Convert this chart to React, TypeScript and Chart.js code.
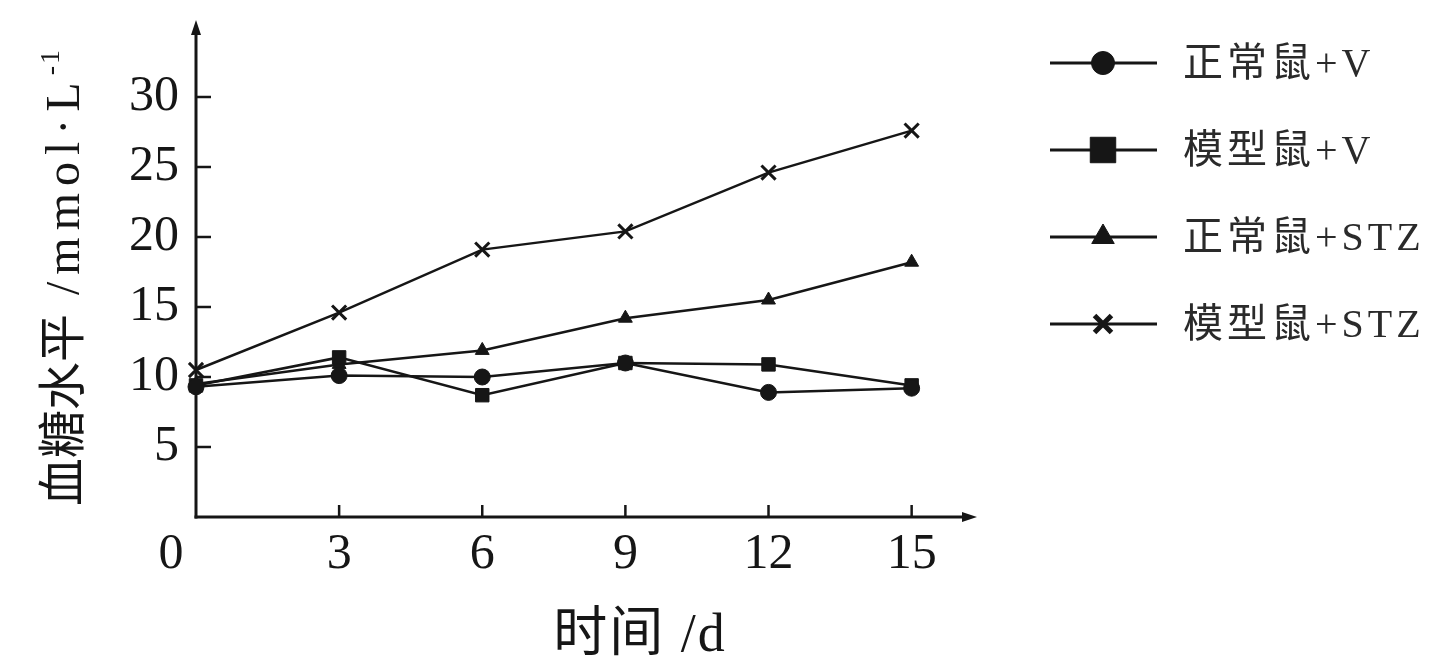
import React, { useEffect, useRef } from 'react';
import { Chart, registerables } from 'chart.js';
import { drawPoint } from 'chart.js/helpers';

Chart.register(...registerables);

// ---- data ----
const days = [0, 3, 6, 9, 12, 15];
const xTickValues = [0, 3, 6, 9, 12, 15];
const yTickValues = [5, 10, 15, 20, 25, 30];
const seriesNames = ['正常鼠+V', '模型鼠+V', '正常鼠+STZ', '模型鼠+STZ'];
const normalV = [9.3, 10.1, 10.0, 11.0, 8.9, 9.2];
const modelV = [9.4, 11.4, 8.7, 11.0, 10.9, 9.4];
const normalSTZ = [9.5, 10.9, 11.9, 14.2, 15.5, 18.2];
const modelSTZ = [10.5, 14.6, 19.1, 20.4, 24.6, 27.6];
const xTitleCn = '时间';
const xTitleUnit = ' /d';
const yTitleCn = '血糖水平';
const yTitleUnit = ' /mmol·L';
const yTitleSup = '-1';

const INK = '#161616';
const SERIF = '"Liberation Serif", "Times New Roman", serif';
const CJK = '"Noto Sans CJK SC", sans-serif';

const seriesValues = [normalV, modelV, normalSTZ, modelSTZ];
const pointStyles = ['circle', 'rect', 'triangle', 'crossRot'];
const pointRadii = [8, 9.5, 8, 10];
const pointBorders = [1, 1, 1, 3];
const legendRadii = [11.5, 18, 13, 12];
const legendBorders = [1, 1, 1, 5];

const decorPlugin = {
  id: 'decor',
  beforeDatasetsDraw(chart: any) {
    const { ctx, chartArea: a, scales } = chart;
    const x = scales.x;
    const y = scales.y;
    const x0 = x.getPixelForValue(0);
    const y0 = y.getPixelForValue(0);
    ctx.save();
    ctx.strokeStyle = INK;
    ctx.fillStyle = INK;
    ctx.lineWidth = 3;
    ctx.lineCap = 'butt';
    // y axis
    ctx.beginPath();
    ctx.moveTo(x0, y0 + 1.5);
    ctx.lineTo(x0, a.top + 10);
    ctx.stroke();
    ctx.beginPath();
    ctx.moveTo(x0, a.top);
    ctx.lineTo(x0 - 5, a.top + 15);
    ctx.lineTo(x0 + 5, a.top + 15);
    ctx.closePath();
    ctx.fill();
    // x axis
    ctx.beginPath();
    ctx.moveTo(x0 - 1.5, y0);
    ctx.lineTo(a.right - 10, y0);
    ctx.stroke();
    ctx.beginPath();
    ctx.moveTo(a.right, y0);
    ctx.lineTo(a.right - 15, y0 - 5);
    ctx.lineTo(a.right - 15, y0 + 5);
    ctx.closePath();
    ctx.fill();
    // inward ticks
    ctx.lineWidth = 2.5;
    yTickValues.forEach((v) => {
      const py = y.getPixelForValue(v);
      ctx.beginPath();
      ctx.moveTo(x0, py);
      ctx.lineTo(x0 + 15, py);
      ctx.stroke();
    });
    xTickValues.forEach((v) => {
      if (v === 0) return;
      const px = x.getPixelForValue(v);
      ctx.beginPath();
      ctx.moveTo(px, y0);
      ctx.lineTo(px, y0 - 12);
      ctx.stroke();
    });
    ctx.restore();
  },
  afterDraw(chart: any) {
    const { ctx } = chart;
    ctx.save();
    ctx.fillStyle = INK;
    ctx.strokeStyle = INK;

    // x-axis title
    ctx.textBaseline = 'alphabetic';
    ctx.textAlign = 'left';
    ctx.font = `54px ${CJK}`;
    (ctx as any).letterSpacing = '2px';
    const w1 = ctx.measureText(xTitleCn).width;
    ctx.font = `54px ${SERIF}`;
    const w2 = ctx.measureText(xTitleUnit).width;
    const startX = 640 - (w1 + w2) / 2;
    const baseY = 651;
    ctx.font = `54px ${CJK}`;
    ctx.fillText(xTitleCn, startX, baseY);
    ctx.font = `54px ${SERIF}`;
    ctx.fillText(xTitleUnit, startX + w1, baseY);

    // y-axis title (rotated)
    ctx.save();
    ctx.translate(79, 506);
    ctx.rotate(-Math.PI / 2);
    (ctx as any).letterSpacing = '0px';
    ctx.font = `48px ${CJK}`;
    ctx.fillText(yTitleCn, 0, 0);
    const c1 = ctx.measureText(yTitleCn).width;
    (ctx as any).letterSpacing = '7px';
    ctx.font = `48px ${SERIF}`;
    ctx.fillText(yTitleUnit, c1, 0);
    const c2 = ctx.measureText(yTitleUnit).width;
    (ctx as any).letterSpacing = '2px';
    ctx.font = `28px ${SERIF}`;
    ctx.fillText(yTitleSup, c1 + c2, -20);
    ctx.restore();

    // legend
    (ctx as any).letterSpacing = '4px';
    ctx.font = `40px ${SERIF.split(',')[0]}, ${CJK}`;
    ctx.textBaseline = 'middle';
    seriesNames.forEach((name, i) => {
      const ry = 63 + i * 87;
      ctx.strokeStyle = INK;
      ctx.fillStyle = INK;
      ctx.lineWidth = 3;
      ctx.beginPath();
      ctx.moveTo(1050, ry);
      ctx.lineTo(1157, ry);
      ctx.stroke();
      ctx.lineWidth = legendBorders[i];
      drawPoint(ctx, {
        pointStyle: pointStyles[i] as any,
        radius: legendRadii[i],
        borderWidth: legendBorders[i],
        rotation: 0,
      } as any, 1103, ry);
      ctx.fillStyle = '#2a2a2a';
      ctx.fillText(name, 1183, ry + 2);
    });
    ctx.restore();
  },
};

export default function App() {
  const canvasRef = useRef<HTMLCanvasElement | null>(null);

  useEffect(() => {
    const canvas = canvasRef.current;
    if (!canvas) return;
    const datasets = seriesValues.map((vals, i) => ({
      label: seriesNames[i],
      data: days.map((d, j) => ({ x: d, y: vals[j] })),
      borderColor: INK,
      backgroundColor: INK,
      pointBackgroundColor: INK,
      pointBorderColor: INK,
      borderWidth: 2.5,
      pointStyle: pointStyles[i] as any,
      pointRadius: pointRadii[i],
      pointBorderWidth: pointBorders[i],
      tension: 0,
      clip: false as any,
    }));

    const chart = new Chart(canvas, {
      type: 'line',
      data: { datasets },
      options: {
        animation: false,
        responsive: false,
        devicePixelRatio: 1,
        layout: { padding: { top: 20, right: 458, left: 0, bottom: 0 } },
        plugins: {
          legend: { display: false },
          tooltip: { enabled: false },
        },
        scales: {
          x: {
            type: 'linear',
            min: 0,
            max: 16.37,
            grid: { display: false, drawTicks: false },
            border: { display: false },
            afterBuildTicks: (scale: any) => {
              scale.ticks = xTickValues.map((v) => ({ value: v }));
            },
            afterFit: (scale: any) => {
              scale.height = 145;
              scale.paddingLeft = 0;
              scale.paddingRight = 0;
            },
            ticks: {
              autoSkip: false,
              maxRotation: 0,
              padding: 8,
              color: INK,
              font: { family: SERIF, size: 50 },
              callback: (v: any) => (Number(v) === 0 ? '0    ' : String(v)),
            },
          },
          y: {
            type: 'linear',
            min: 0,
            max: 35.5,
            grid: { display: false, drawTicks: false },
            border: { display: false },
            afterBuildTicks: (scale: any) => {
              scale.ticks = yTickValues.map((v) => ({ value: v }));
            },
            afterFit: (scale: any) => {
              scale.width = 196;
              scale.paddingTop = 0;
              scale.paddingBottom = 0;
            },
            ticks: {
              autoSkip: false,
              padding: 17,
              color: INK,
              font: { family: SERIF, size: 50 },
              callback: (v: any) => String(v),
            },
          },
        },
      },
      plugins: [decorPlugin],
    });
    return () => chart.destroy();
  }, []);

  return (
    <div style={{ position: 'fixed', left: 0, top: 0, width: 1435, height: 662, background: '#fff' }}>
      <canvas ref={canvasRef} width={1435} height={662} style={{ width: 1435, height: 662 }} />
    </div>
  );
}
